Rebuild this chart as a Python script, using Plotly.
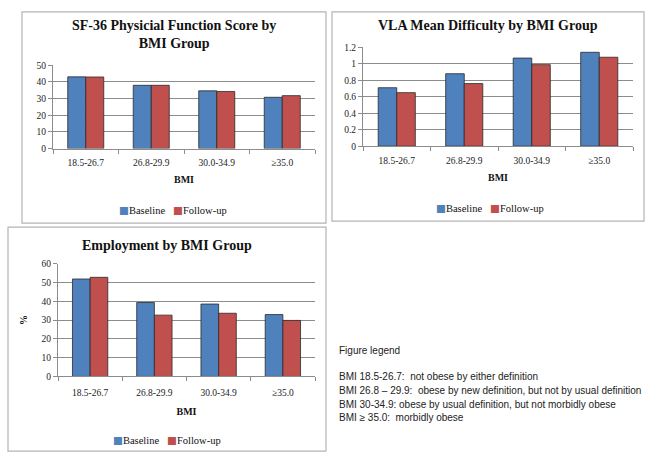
import plotly.graph_objects as go

W, H = 670, 462

bmi_groups = ["18.5-26.7", "26.8-29.9", "30.0-34.9", "≥35.0"]
series_names = ["Baseline", "Follow-up"]

sf36_baseline = [43.1, 38.0, 34.7, 30.8]
sf36_followup = [43.0, 38.0, 34.3, 31.8]

vla_baseline = [0.71, 0.88, 1.07, 1.14]
vla_followup = [0.65, 0.76, 0.99, 1.08]

emp_baseline = [51.8, 39.3, 38.5, 32.9]
emp_followup = [52.7, 32.6, 33.6, 29.8]

legend_lines = [
    "BMI 18.5-26.7:  not obese by either definition",
    "BMI 26.8 – 29.9:  obese by new definition, but not by usual definition",
    "BMI 30-34.9: obese by usual definition, but not morbidly obese",
    "BMI ≥ 35.0:  morbidly obese",
]

BLUE = "#4F81BD"
RED = "#C0504D"
SERIF = "Liberation Serif, DejaVu Serif, serif"
SANS = "Liberation Sans, Arial, sans-serif"


def px(x):
    return x / W


def py(y):
    return 1 - y / H


fig = go.Figure()

panels = [
    (sf36_baseline, sf36_followup, ""),
    (vla_baseline, vla_followup, "2"),
    (emp_baseline, emp_followup, "3"),
]
for base, follow, ax in panels:
    for name, vals, col in zip(series_names, [base, follow], [BLUE, RED]):
        fig.add_trace(go.Bar(
            x=bmi_groups, y=vals, name=name, showlegend=False,
            marker=dict(color=col, line=dict(color="#2a2a2a", width=0.8)),
            xaxis="x" + ax, yaxis="y" + ax,
        ))

tickfont = dict(family=SERIF, size=9.5, color="#222")
xcommon = dict(
    type="category", showline=True, linecolor="#8c8c8c", linewidth=1,
    ticks="outside", tickson="boundaries", ticklen=4, tickcolor="#8c8c8c",
    tickfont=tickfont, showgrid=False, ticklabelstandoff=5,
)
ycommon = dict(
    showline=True, linecolor="#8c8c8c", linewidth=1, ticks="outside",
    ticklen=4, tickcolor="#8c8c8c", gridcolor="#8c8c8c", gridwidth=1,
    tickfont=tickfont, zeroline=False,
)
axtitle = dict(family=SERIF, size=10, color="#111", weight="bold")

# plot-area positions in pixels: (left, right, top, bottom)
areas = {
    "": (53, 315, 61.7, 146.7),
    "2": (363, 633, 43.3, 144.3),
    "3": (58, 315, 264.3, 379.7),
}
yranges = {"": (0, 50, 10), "2": (0, 1.2, 0.2), "3": (0, 60, 10)}

layout = {}
for ax, (l, r, t, b) in areas.items():
    lo, hi, dt = yranges[ax]
    layout["xaxis" + ax] = dict(
        xcommon, domain=[px(l), px(r)], anchor="y" + ax,
        title=dict(text="BMI", font=axtitle, standoff=9),
    )
    layout["yaxis" + ax] = dict(
        ycommon, domain=[py(b), py(t)], anchor="x" + ax,
        range=[lo, hi], dtick=dt,
    )
layout["yaxis3"]["title"] = dict(text="%", font=axtitle, standoff=12)
layout["xaxis3"]["ticklabelstandoff"] = 7
layout["xaxis3"]["title"]["standoff"] = 11

# panel frames
boxes = [(22, 326, 7, 223), (332, 644, 7, 221), (8, 326, 227, 456)]
shapes = [
    dict(type="rect", xref="paper", yref="paper",
         x0=px(l), x1=px(r), y0=py(b), y1=py(t),
         line=dict(color="#b4b4b4", width=1.2))
    for l, r, t, b in boxes
]


def note(text, x, y, font, xanchor="center"):
    return dict(text=text, x=px(x), y=py(y), xanchor=xanchor, yanchor="middle",
                font=font, showarrow=False, xref="paper", yref="paper")


titlefont = dict(family=SERIF, size=14, color="#111", weight="bold")
legfont = dict(family=SERIF, size=10.5, color="#111")
sq = '<span style="color:{};font-family:DejaVu Sans">■</span>'
legend_text = (sq.format(BLUE) + series_names[0] + "   "
               + sq.format(RED) + series_names[1])
notefont = dict(family=SANS, size=10, color="#222")

annotations = [
    note("SF-36 Physicial Function Score by<br>BMI Group", 174, 30, titlefont),
    note("VLA Mean Difficulty by BMI Group", 488, 21, titlefont),
    note("Employment by BMI Group", 167, 246, titlefont),
    note(legend_text, 173, 210, legfont),
    note(legend_text, 490, 207, legfont),
    note(legend_text, 167, 445, legfont),
    note("Figure legend", 337, 353, notefont, "left"),
]
for i, line in enumerate(legend_lines):
    annotations.append(note(line, 337, 380 + 14 * i, notefont, "left"))

fig.update_layout(
    width=W, height=H, margin=dict(l=0, r=0, t=0, b=0),
    paper_bgcolor="white", plot_bgcolor="white",
    barmode="group", bargap=0.45, bargroupgap=0,
    shapes=shapes, annotations=annotations, **layout,
)

fig.write_html(
    "out.html",
    config={"displayModeBar": False},
    post_script="document.body.style.margin='0';document.body.style.overflow='hidden';",
)
